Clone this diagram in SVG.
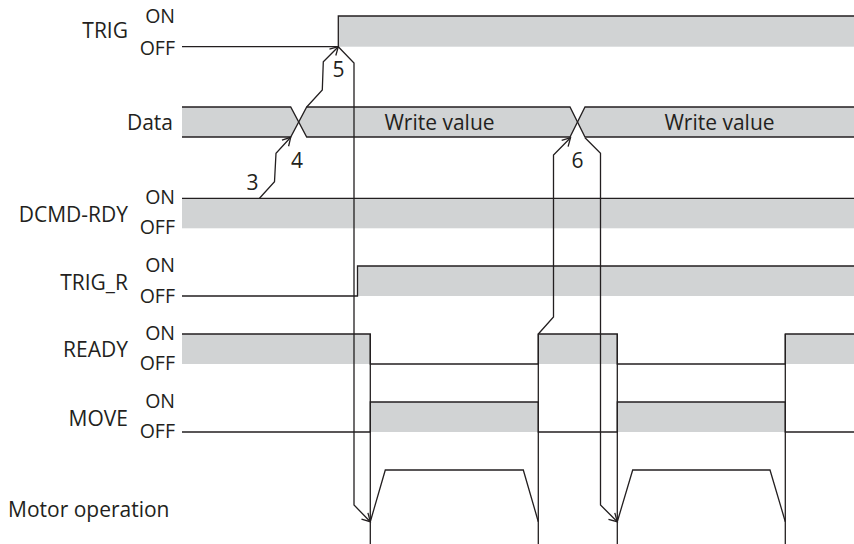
<svg xmlns="http://www.w3.org/2000/svg" width="854" height="544" viewBox="0 0 854 544">
<style>
.t{font-family:"Open Sans","Noto Sans","Liberation Sans",sans-serif;font-size:21px;fill:#231f20}
.s{font-family:"Open Sans","Noto Sans","Liberation Sans",sans-serif;font-size:19.5px;fill:#231f20}
.e{text-anchor:end}
.m{text-anchor:middle}
.g{fill:#d1d3d4;stroke:none}
.w{fill:none;stroke:#231f20;stroke-width:1.3}
.c{fill:none;stroke:#231f20;stroke-width:1.3;marker-end:url(#ah)}
</style>
<defs>
<marker id="ah" viewBox="-10 -6 12 12" refX="0" refY="0" markerWidth="12" markerHeight="12" markerUnits="userSpaceOnUse" orient="auto">
<path d="M-8,-4.5 L0,0 L-8,4.5" fill="none" stroke="#231f20" stroke-width="1.3"/>
</marker>
</defs>
<rect width="854" height="544" fill="#fff"/>

<g id="trig">
<rect class="g" x="338.3" y="16" width="515.7" height="30.7"/>
<polyline class="w" points="182,46.7 338.3,46.7 338.3,16 854,16"/>
<text class="t e" x="128" y="37.5">TRIG</text>
<text class="s e" x="175" y="23">ON</text>
<text class="s e" x="175" y="55">OFF</text>
</g>

<g id="data">
<polygon class="g" points="182,107 290.7,107 298.7,122 290.7,137 182,137"/>
<polygon class="g" points="306.7,107 570,107 577.5,122 570,137 306.7,137 298.7,122"/>
<polygon class="g" points="585,107 854,107 854,137 585,137 577.5,122"/>
<path class="w" d="M182,107 H290.7 L306.7,137 H570 L585,107 H854"/>
<path class="w" d="M182,137 H290.7 L306.7,107 H570 L585,137 H854"/>
<text class="t e" x="173" y="130">Data</text>
<text class="t m" x="439.5" y="130">Write value</text>
<text class="t m" x="719.5" y="130">Write value</text>
</g>

<g id="dcmd-rdy">
<rect class="g" x="182" y="198.3" width="672" height="30"/>
<line class="w" x1="182" y1="198.3" x2="854" y2="198.3"/>
<text class="t e" x="128" y="222">DCMD-RDY</text>
<text class="s e" x="175" y="203.5">ON</text>
<text class="s e" x="175" y="233.5">OFF</text>
</g>

<g id="trig-r">
<rect class="g" x="357.5" y="266" width="496.5" height="30"/>
<polyline class="w" points="182,296 357.5,296 357.5,266 854,266"/>
<text class="t e" x="128" y="290">TRIG_R</text>
<text class="s e" x="175" y="272">ON</text>
<text class="s e" x="175" y="303">OFF</text>
</g>

<g id="ready">
<rect class="g" x="182" y="334" width="188.3" height="30"/>
<rect class="g" x="538.3" y="334" width="79" height="30"/>
<rect class="g" x="785.3" y="334" width="68.7" height="30"/>
<polyline class="w" points="182,334 370.3,334 370.3,364 538.3,364 538.3,334 617.3,334 617.3,364 785.3,364 785.3,334 854,334"/>
<text class="t e" x="128" y="357">READY</text>
<text class="s e" x="175" y="340">ON</text>
<text class="s e" x="175" y="370">OFF</text>
</g>

<g id="move">
<rect class="g" x="370.3" y="402" width="168" height="30"/>
<rect class="g" x="617.3" y="402" width="168" height="30"/>
<polyline class="w" points="182,432 370.3,432 370.3,402 538.3,402 538.3,432 617.3,432 617.3,402 785.3,402 785.3,432 854,432"/>
<text class="t e" x="128" y="426">MOVE</text>
<text class="s e" x="175" y="408">ON</text>
<text class="s e" x="175" y="438">OFF</text>
</g>

<g id="motor">
<line class="w" x1="370.3" y1="334" x2="370.3" y2="544"/>
<line class="w" x1="538.3" y1="334" x2="538.3" y2="544"/>
<line class="w" x1="617.3" y1="334" x2="617.3" y2="544"/>
<line class="w" x1="785.3" y1="334" x2="785.3" y2="544"/>
<polyline class="w" points="370.3,521.7 385.3,470 523.3,470 538.3,521.7"/>
<polyline class="w" points="617.3,521.7 632.7,470 770,470 785.3,521.7"/>
<text class="t" x="8" y="517">Motor operation</text>
</g>

<g id="connectors">
<path class="c" d="M259.5,198.3 L274.5,181.7 L276,153.3 L290.7,137.3"/>
<path class="c" d="M306.7,107 L322.3,90 L323.3,61.7 L338.3,46.7"/>
<path class="c" d="M338.3,46.7 L354,63 L354,505 L370.3,521.7"/>
<path class="c" d="M538.3,334 L553.5,317 L553.5,155 L570.5,137.7"/>
<path class="c" d="M585,137.7 L600.5,153.3 L600.5,505 L617.3,521.7"/>
<text class="t m" x="252.5" y="190">3</text>
<text class="t m" x="297" y="168">4</text>
<text class="t m" x="338.5" y="77">5</text>
<text class="t m" x="577.5" y="168">6</text>
</g>
</svg>
